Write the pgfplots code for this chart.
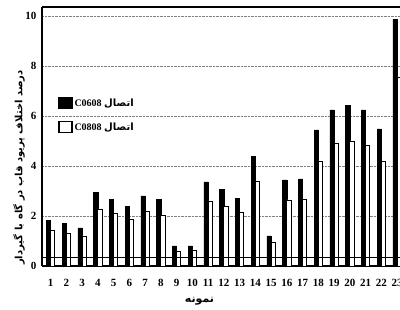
\documentclass[border=0pt]{standalone}
\usepackage{pgfplots}
\pgfplotsset{compat=1.18}
\usepackage{fontspec}
\setmainfont{Liberation Serif}
\newfontfamily\arabicfont[Script=Arabic]{DejaVu Sans}
\TeXXeTstate=1
\pgfplotstableread{
x black white
1 1.81 1.43
2 1.71 1.31
3 1.52 1.20
4 2.93 2.28
5 2.67 2.09
6 2.37 1.88
7 2.80 2.17
8 2.67 2.04
9 0.80 0.60
10 0.80 0.64
11 3.36 2.60
12 3.05 2.37
13 2.71 2.13
14 4.37 3.37
15 1.20 0.93
16 3.44 2.64
17 3.48 2.67
18 5.44 4.20
19 6.24 4.90
20 6.41 5.00
21 6.24 4.84
22 5.48 4.17
23 9.87 7.56
}\datatable
\begin{document}
\begin{tikzpicture}
\begin{axis}[
  scale only axis,
  width=358pt, height=259pt,
  xmin=0.45, xmax=23.18,
  ymin=0, ymax=10.36,
  axis x line=box,
  axis y line*=left,
  axis line style={line width=1.5pt,-},
  major tick length=0pt,
  xtick={1,...,23},
  ytick={0,2,4,6,8,10},
  ymajorgrids,
  grid style={densely dotted, gray, line width=0.8pt},
  /pgf/number format/assume math mode=true,
  ticklabel style={font=\fontsize{11}{12}\selectfont\bfseries},
  xticklabel style={yshift=-10pt},
  yticklabel style={xshift=-2pt},
  xlabel={\arabicfont\bfseries\fontsize{11}{12}\selectfont\beginR نمونه\endR},
  xlabel style={at={(rel axis cs:0.44,0)}, anchor=center, yshift=-35pt},
  ylabel={\arabicfont\bfseries\fontsize{10}{11}\selectfont\beginR درصد اختلاف پریود قاب در گاه با گیردار\endR},
  ylabel style={at={(rel axis cs:0,0.38)}, anchor=center, yshift=23pt},
  legend style={at={(0.045,0.655)}, anchor=north west, draw=none, fill=none,
    font=\fontsize{10}{11}\selectfont\bfseries, row sep=11pt,
    inner sep=0pt},
  legend cell align=left,
  legend image code/.code={\draw[#1, line width=1.2pt] (0pt,-5pt) rectangle (13pt,6pt);},
]
\addplot[ybar, bar width=0.27, bar shift=-0.135, fill=black, draw=black, line width=0.6pt] table[x=x, y=black] {\datatable};
\addlegendentry{\beginR{\arabicfont اتصال} \beginL C0608\endL\endR}
\addplot[ybar, bar width=0.27, bar shift=0.135, fill=white, draw=black, line width=0.9pt] table[x=x, y=white] {\datatable};
\addlegendentry{\beginR{\arabicfont اتصال} \beginL C0808\endL\endR}
\addplot[sharp plot, black, line width=1pt, forget plot] coordinates {(0.45,0.35) (23.18,0.35)};
\coordinate (ll) at (rel axis cs:0,0);
\coordinate (ur) at (rel axis cs:1,1);
\end{axis}
\pgfresetboundingbox
\path[use as bounding box] ([shift={(-42pt,-44pt)}]ll) rectangle ([shift={(0pt,7pt)}]ur);
\end{tikzpicture}
\end{document}
